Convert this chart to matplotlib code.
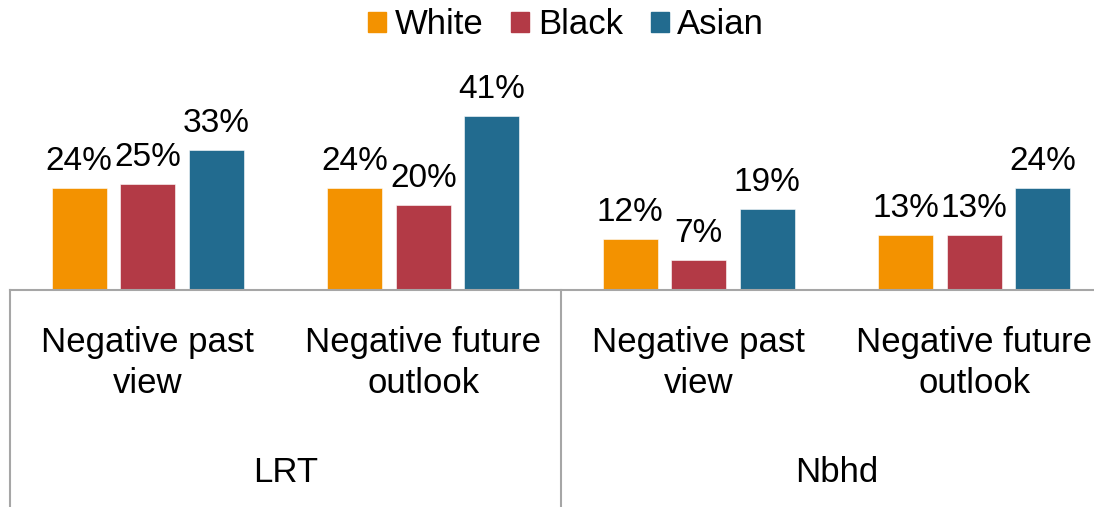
import matplotlib.pyplot as plt
from matplotlib.patches import Patch

# data
groups = ["LRT", "Nbhd"]
measures = ["Negative past\nview", "Negative future\noutlook"]
series = ["White", "Black", "Asian"]
white = [24, 24, 12, 13]
black = [25, 20, 7, 13]
asian = [33, 41, 19, 24]
colors = ["#F39200", "#B33A46", "#226B8F"]

plt.rcParams['font.family'] = ['Liberation Sans', 'DejaVu Sans']

fig = plt.figure(figsize=(10.94, 5.07), dpi=100)
ax = fig.add_axes([10 / 1094, 217 / 507, 1084 / 1094, 240 / 507])

x = list(range(4))
offs = [-0.2486, 0, 0.2486]
for vals, off, col in zip([white, black, asian], offs, colors):
    pos = [i + off for i in x]
    bars = ax.bar(pos, vals, width=0.2, color=col, edgecolor="white", linewidth=0.4)
    for b, v in zip(bars, vals):
        ax.annotate(f"{v}%", (b.get_x() + b.get_width() / 2, v),
                    xytext=(0, 8), textcoords="offset points",
                    ha="center", va="bottom", fontsize=24)

ax.set_xlim(-0.5, 3.434)
ax.set_ylim(0, 240 / 4.25)
for s in ["top", "right", "left"]:
    ax.spines[s].set_visible(False)
ax.spines["bottom"].set_color("#A6A6A6")
ax.spines["bottom"].set_linewidth(1.5)
ax.set_xticks([])
ax.set_yticks([])

# category and group labels below the axis
labels = measures * 2
for i, lab in enumerate(labels):
    ax.annotate(lab, (i, 144 / 507), xycoords=("data", "figure fraction"),
                ha="center", va="center", fontsize=25, linespacing=1.3,
                annotation_clip=False)
for g, name in enumerate(groups):
    ax.annotate(name, (2 * g + 0.5, 35 / 507), xycoords=("data", "figure fraction"),
                ha="center", va="center", fontsize=25, annotation_clip=False)

# group divider lines
trans = ax.get_xaxis_transform()
depth = -217 / 240
for xv in [-0.5, 1.5, 3.5]:
    ax.plot([xv, xv], [0, depth], transform=trans, color="#A6A6A6",
            linewidth=1.5, clip_on=False)

handles = [Patch(color=c, label=s) for c, s in zip(colors, series)]
fig.legend(handles=handles, loc="upper center", ncol=3, frameon=False,
           bbox_to_anchor=(566 / 1094, 1.045), fontsize=25,
           handlelength=0.52, handleheight=0.52, handletextpad=0.25,
           columnspacing=0.8)

fig.savefig("out.png", dpi=100)
